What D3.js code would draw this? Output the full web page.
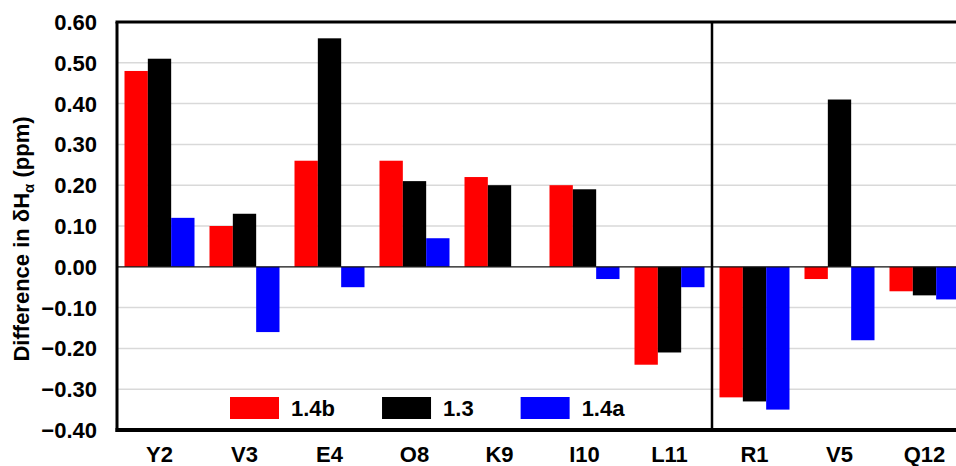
<!DOCTYPE html>
<html>
<head>
<meta charset="utf-8">
<script src="https://cdn.jsdelivr.net/npm/d3@7"></script>
<style>
  html, body { margin: 0; padding: 0; background: #fff; }
  svg { display: block; }
  text { font-family: "Liberation Sans", Arial, sans-serif; font-weight: bold; fill: #000; }
</style>
</head>
<body>
<svg id="chart" width="956" height="466"></svg>
<script>
// Residues along the peptide; the last three are separated by a divider
const residues = ["Y2", "V3", "E4", "O8", "K9", "I10", "L11", "R1", "V5", "Q12"];
const seriesNames = ["1.4b", "1.3", "1.4a"];
const seriesColors = ["#ff0000", "#000000", "#0000ff"];

// Chemical shift differences (ppm) per series
const values14b = [0.48, 0.10, 0.26, 0.26, 0.22, 0.20, -0.24, -0.32, -0.03, -0.06];
const values13  = [0.51, 0.13, 0.56, 0.21, 0.20, 0.19, -0.21, -0.33, 0.41, -0.07];
const values14a = [0.12, -0.16, -0.05, 0.07, null, -0.03, -0.05, -0.35, -0.18, -0.08];

const yTicks = [0.6, 0.5, 0.4, 0.3, 0.2, 0.1, 0.0, -0.1, -0.2, -0.3, -0.4];

const seriesValues = [values14b, values13, values14a];

const svg = d3.select("#chart");
const plotLeft = 117, plotRight = 967, plotTop = 22, plotBottom = 430;

const x = d3.scaleBand()
  .domain(residues)
  .range([plotLeft, plotRight])
  .paddingInner(15 / 85)
  .paddingOuter(7.5 / 85);

const xs = d3.scaleBand()
  .domain(seriesNames)
  .range([0, x.bandwidth()]);

const y = d3.scaleLinear().domain([-0.4, 0.6]).range([plotBottom, plotTop]);

// Horizontal gridlines
svg.append("g")
  .selectAll("line")
  .data(yTicks.filter(t => t !== 0 && t !== 0.6 && t !== -0.4))
  .join("line")
  .attr("x1", plotLeft).attr("x2", plotRight)
  .attr("y1", d => y(d)).attr("y2", d => y(d))
  .attr("stroke", "#d9d9d9")
  .attr("stroke-width", 1.5);

// Bars
const rows = [];
residues.forEach((r, i) => {
  seriesNames.forEach((s, j) => {
    const v = seriesValues[j][i];
    if (v !== null) rows.push({ residue: r, series: s, value: v, color: seriesColors[j] });
  });
});

svg.append("g")
  .selectAll("rect")
  .data(rows)
  .join("rect")
  .attr("x", d => x(d.residue) + xs(d.series))
  .attr("width", xs.bandwidth())
  .attr("y", d => y(Math.max(0, d.value)))
  .attr("height", d => Math.abs(y(d.value) - y(0)))
  .attr("fill", d => d.color);

// Zero baseline
svg.append("line")
  .attr("x1", plotLeft).attr("x2", plotRight)
  .attr("y1", y(0)).attr("y2", y(0))
  .attr("stroke", "#111")
  .attr("stroke-width", 1.3);

// Divider between L11 and R1
const divX = (x("L11") + x.bandwidth() + x("R1")) / 2;
svg.append("line")
  .attr("x1", divX).attr("x2", divX)
  .attr("y1", plotTop).attr("y2", plotBottom)
  .attr("stroke", "#000")
  .attr("stroke-width", 2.5);

// Plot frame
svg.append("line").attr("x1", plotLeft - 1.5).attr("x2", plotRight).attr("y1", plotTop).attr("y2", plotTop)
  .attr("stroke", "#000").attr("stroke-width", 3);
svg.append("line").attr("x1", plotLeft - 1.5).attr("x2", plotRight).attr("y1", plotBottom).attr("y2", plotBottom)
  .attr("stroke", "#000").attr("stroke-width", 4);
svg.append("line").attr("x1", plotLeft).attr("x2", plotLeft).attr("y1", plotTop).attr("y2", plotBottom + 2)
  .attr("stroke", "#000").attr("stroke-width", 3);

// Y tick labels
svg.append("g")
  .selectAll("text")
  .data(yTicks)
  .join("text")
  .attr("x", 97)
  .attr("y", d => y(d))
  .attr("dy", "0.36em")
  .attr("text-anchor", "end")
  .attr("font-size", 22)
  .text(d => d3.format(".2f")(d));

// X category labels
svg.append("g")
  .selectAll("text")
  .data(residues)
  .join("text")
  .attr("x", d => x(d) + x.bandwidth() / 2)
  .attr("y", 462)
  .attr("text-anchor", "middle")
  .attr("font-size", 22)
  .text(d => d);

// Y axis title
const title = svg.append("text")
  .attr("transform", "translate(29,239) rotate(-90)")
  .attr("text-anchor", "middle")
  .attr("font-size", 22);
title.append("tspan").text("Difference in \u03B4H");
title.append("tspan").attr("font-size", 15).attr("dy", 5).text("\u03B1");
title.append("tspan").attr("dy", -5).text(" (ppm)");

// Legend
const legend = svg.append("g");
let lx = 230;
seriesNames.forEach((name, i) => {
  legend.append("rect")
    .attr("x", lx).attr("y", 397)
    .attr("width", 49).attr("height", 22)
    .attr("fill", seriesColors[i]);
  const t = legend.append("text")
    .attr("x", lx + 61).attr("y", 416)
    .attr("font-size", 22)
    .text(name);
  lx += 61 + t.node().getComputedTextLength() + 47;
});
</script>
</body>
</html>
